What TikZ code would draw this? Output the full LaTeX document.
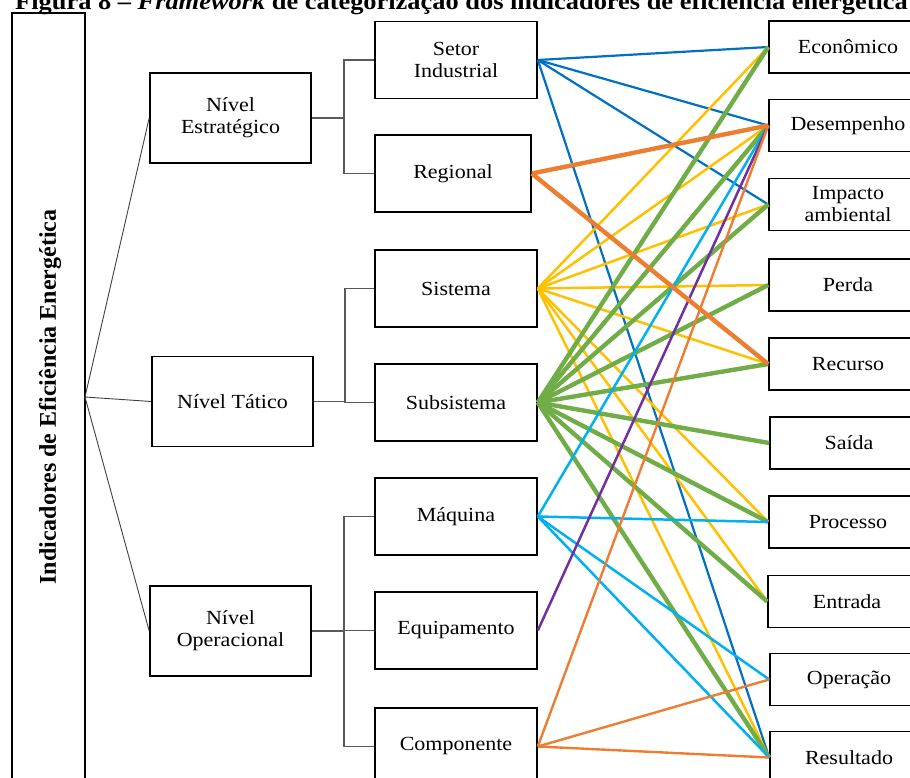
\documentclass[tikz,border=0pt]{standalone}
\usepackage{fontspec}
\setmainfont{Liberation Serif}[FakeStretch=1.1]
\newfontfamily\sideserif{Liberation Serif}
\definecolor{lnblue}{HTML}{0070C0}
\definecolor{lnorange}{HTML}{ED7D31}
\definecolor{lnyellow}{HTML}{FFC000}
\definecolor{lngreen}{HTML}{70AD47}
\definecolor{lncyan}{HTML}{00B0F0}
\definecolor{lnpurple}{HTML}{7030A0}
\begin{document}
\begin{tikzpicture}[x=1pt,y=-1pt,
  frame/.style={draw=black, line width=1.6pt, inner sep=0pt, align=center,
    font=\fontsize{20}{22}\selectfont},
  levelbox/.style={frame, minimum width=161pt, minimum height=90pt},
  midbox/.style={frame, minimum width=162pt, minimum height=77pt},
  catbox/.style={frame, minimum width=158pt, minimum height=52pt},
  tree/.style={draw=black!65, line width=1.1pt},
  spoke/.style={draw=black!75, line width=0.9pt},
  bluel/.style={draw=lnblue, line width=2.2pt},
  orangethick/.style={draw=lnorange, line width=4.4pt},
  orangethin/.style={draw=lnorange, line width=2.4pt},
  yellowl/.style={draw=lnyellow, line width=2.5pt},
  greenl/.style={draw=lngreen, line width=4.4pt},
  cyanl/.style={draw=lncyan, line width=2.5pt},
  purplel/.style={draw=lnpurple, line width=2.5pt}]
\useasboundingbox (0,0) rectangle (910,778);

% title
\node[anchor=base west, inner sep=0pt, font=\fontsize{24}{26}\selectfont\bfseries]
  (title) at (15,10) {Figura 8 -- \textit{Framework} de categorização dos indicadores de eficiência energética};

% root column
\node[draw=black, line width=1.6pt, minimum width=73pt, minimum height=790pt, inner sep=0pt]
  (root) at (48.5,408) {};
\node[rotate=90, inner sep=0pt, font=\sideserif\fontsize{24}{26}\selectfont\bfseries]
  (rootlabel) at (50,397) {Indicadores de Eficiência Energética};
\coordinate (hub) at (85,397);

% levels
\node[levelbox] (estr) at (230.5,118) {Nível\\Estratégico};
\node[levelbox] (tat)  at (232.5,401.5) {Nível Tático};
\node[levelbox] (oper) at (230.5,631) {Nível\\Operacional};

% scopes
\node[midbox] (setor)   at (456,60)    {Setor\\Industrial};
\node[midbox, minimum width=156pt] (regional) at (453,173.5) {Regional};
\node[midbox] (sistema) at (456,288.5) {Sistema};
\node[midbox] (subsis)  at (456,402.5) {Subsistema};
\node[midbox] (maquina) at (456,516.5) {Máquina};
\node[midbox] (equip)   at (456,630.5) {Equipamento};
\node[midbox] (compon)  at (456,746.5) {Componente};

% indicator categories
\node[catbox] (eco)   at (848,47)    {Econômico};
\node[catbox] (desemp) at (848,125.5) {Desempenho};
\node[catbox] (impact) at (848,204.5) {Impacto\\ambiental};
\node[catbox] (perda)  at (848,285)   {Perda};
\node[catbox] (recur)  at (848,364)   {Recurso};
\node[catbox] (saida)  at (849,443)   {Saída};
\node[catbox] (proc)   at (848,522)   {Processo};
\node[catbox] (entr)   at (847,601.5) {Entrada};
\node[catbox] (operac) at (849,679.5) {Operação};
\node[catbox] (result) at (849,757.5) {Resultado};

% hierarchy links
\draw[spoke] (hub) -- (estr.west);
\draw[spoke] (hub) -- (tat.west);
\draw[spoke] (hub) -- (oper.west);

\coordinate (j1) at (344,118);
\coordinate (j2) at (345,401.5);
\coordinate (j3) at (344,631);
\draw[tree] (estr.east) -- (j1);
\draw[tree] (j1) |- (setor.west);
\draw[tree] (j1) |- (regional.west);
\draw[tree] (tat.east) -- (j2);
\draw[tree] (j2) |- (sistema.west);
\draw[tree] (j2) |- (subsis.west);
\draw[tree] (oper.east) -- (j3);
\draw[tree] (j3) |- (maquina.west);
\draw[tree] (j3) |- (equip.west);
\draw[tree] (j3) |- (compon.west);

% category links
\foreach \t in {eco,desemp,impact,result}
  \draw[bluel] (setor.east) -- (\t.west);
\foreach \t in {eco,desemp,impact,perda,recur,proc,entr,result}
  \draw[yellowl] (sistema.east) -- (\t.west);
\foreach \t in {eco,desemp,impact,perda,recur,saida,proc,entr,result}
  \draw[greenl] (subsis.east) -- (\t.west);
\foreach \t in {desemp,proc,operac,result}
  \draw[cyanl] (maquina.east) -- (\t.west);
\draw[purplel] (equip.east) -- (desemp.west);
\foreach \t in {desemp,operac,result}
  \draw[orangethin] (compon.east) -- (\t.west);
\foreach \t in {desemp,recur}
  \draw[orangethick] (regional.east) -- (\t.west);
\end{tikzpicture}
\end{document}
